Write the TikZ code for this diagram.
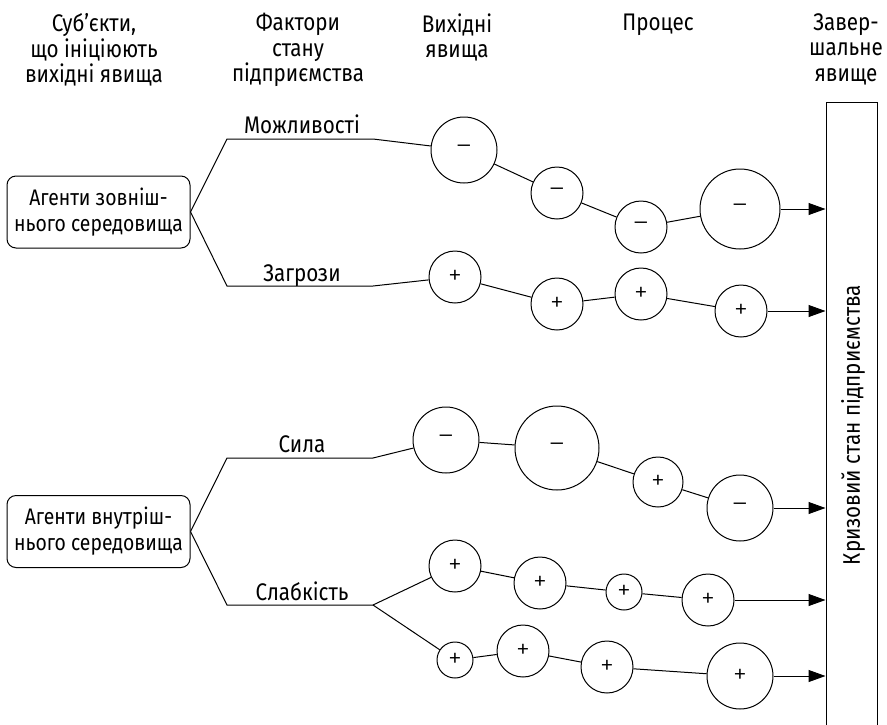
\documentclass[tikz,border=0pt]{standalone}
\usepackage{fontspec}
\setmainfont[FakeStretch=0.86]{Fira Sans}
\newfontfamily\signfont{Fira Sans Light}
\usetikzlibrary{arrows.meta}
\begin{document}
\begin{tikzpicture}[x=1pt,y=-1pt,line width=1pt,
  txt/.style={font=\fontsize{24}{25.5}\selectfont,inner sep=0pt,align=center},
  agent/.style={draw,inner sep=0pt,align=center,font=\fontsize{22.5}{26}\selectfont,
    rounded corners=9pt,minimum width=183pt,minimum height=72pt},
  lbl/.style={txt,anchor=base},
  hdr/.style={txt,anchor=north},
  ev/.style={circle,draw,inner sep=0pt,font=\signfont\fontsize{28}{28}\selectfont},
  arr/.style={-{Triangle[length=17pt,width=12pt]}}]
\useasboundingbox (0,0) rectangle (887,724);
% headers
\node[hdr] (h1) at (94,13) {Суб’єкти,\\що ініціюють\\вихідні явища};
\node[hdr] (h2) at (298,13) {Фактори\\стану\\підприємства};
\node[hdr] (h3) at (457,13) {Вихідні\\явища};
\node[hdr] (h4) at (658,13) {Процес};
\node[hdr] (h5) at (846,13) {Завер-\\шальне\\явище};
% agents
\node[agent] (ext) at (98.5,212) {Агенти зовніш-\\нього середовища};
\node[agent] (int) at (98.5,531.5) {Агенти внутріш-\\нього середовища};
% final box
\node[draw,minimum width=51pt,minimum height=626pt,inner sep=0pt] (crisis) at (851.5,415) {};
\node[txt,rotate=90] (crisistxt) at (853,425) {Кризовий стан підприємства};
% factor line points
\coordinate (o1) at (227,139); \coordinate (o2) at (373,139);
\coordinate (t1) at (227,286); \coordinate (t2) at (373,286);
\coordinate (s1) at (227,458); \coordinate (s2) at (373,458);
\coordinate (w1) at (227,605); \coordinate (w2) at (373,605);
\node[lbl] (lo) at (302,133) {Можливості};
\node[lbl] (lt) at (302,281) {Загрози};
\node[lbl] (ls) at (302,452) {Сила};
\node[lbl] (lw) at (302,600) {Слабкість};
% circles
\node[ev,minimum size=66pt] (a1) at (464,150) {–};
\node[ev,minimum size=52pt] (a2) at (557,193) {–};
\node[ev,minimum size=52pt] (a3) at (641,227) {–};
\node[ev,minimum size=80pt] (a4) at (740,209) {–};
\node[ev,minimum size=52pt] (b1) at (455,277) {+};
\node[ev,minimum size=52pt] (b2) at (557,304) {+};
\node[ev,minimum size=52pt] (b3) at (641,294) {+};
\node[ev,minimum size=52pt] (b4) at (741,311) {+};
\node[ev,minimum size=66pt] (c1) at (446,440) {–};
\node[ev,minimum size=84pt] (c2) at (557,448) {–};
\node[ev,minimum size=50pt] (c3) at (658,482) {+};
\node[ev,minimum size=66pt] (c4) at (740,508) {–};
\node[ev,minimum size=52pt] (d1) at (455,566) {+};
\node[ev,minimum size=52pt] (d2) at (540,583) {+};
\node[ev,minimum size=36pt] (d3) at (624,592) {+};
\node[ev,minimum size=52pt] (d4) at (708,600) {+};
\node[ev,minimum size=36pt] (e1) at (455,660) {+};
\node[ev,minimum size=52pt] (e2) at (523,651) {+};
\node[ev,minimum size=52pt] (e3) at (607,667) {+};
\node[ev,minimum size=66pt] (e4) at (740,676) {+};
% connectors
\draw (ext.east) -- (o1) -- (o2) -- (a1);
\draw (ext.east) -- (t1) -- (t2) -- (b1);
\draw (int.east) -- (s1) -- (s2) -- (c1);
\draw (int.east) -- (w1) -- (w2) -- (d1);
\draw (w2) -- (e1);
\draw (a1) -- (a2) -- (a3) -- (a4);
\draw (b1) -- (b2) -- (b3) -- (b4);
\draw (c1) -- (c2) -- (c3) -- (c4);
\draw (d1) -- (d2) -- (d3) -- (d4);
\draw (e1) -- (e2) -- (e3) -- (e4);
\foreach \n in {a4,b4,c4,d4,e4}
  \draw[arr] (\n) -- (\n -| crisis.west);
\end{tikzpicture}
\end{document}
